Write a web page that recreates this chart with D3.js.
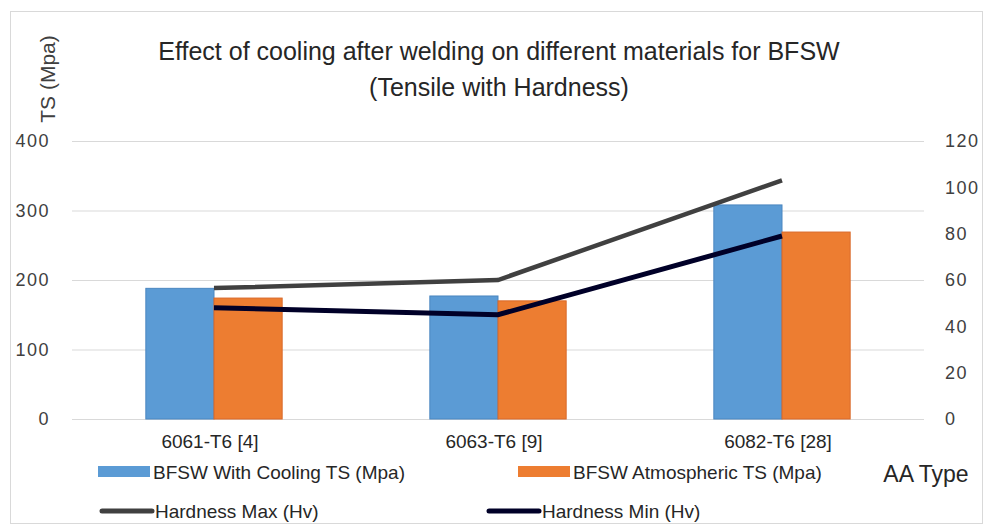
<!DOCTYPE html>
<html><head><meta charset="utf-8">
<script src="https://cdn.jsdelivr.net/npm/d3@7"></script>
<style>
html,body{margin:0;padding:0;background:#fff;}
svg{display:block;font-family:"Liberation Sans Narrow","Liberation Sans",Arial,sans-serif;}
</style></head><body>
<svg id="chart" width="986" height="527"></svg>
<script>
const categories = ["6061-T6 [4]", "6063-T6 [9]", "6082-T6 [28]"];
const tsCooling = [188, 177, 308];
const tsAtmospheric = [174, 170, 269];
const hardnessMax = [56.5, 60, 103];
const hardnessMin = [48, 45, 79];
const leftTicks = [0, 100, 200, 300, 400];
const rightTicks = [0, 20, 40, 60, 80, 100, 120];
const titleLines = ["Effect of cooling after welding on different materials for BFSW", "(Tensile with Hardness)"];
const seriesNames = ["BFSW With Cooling TS (Mpa)", "BFSW Atmospheric TS (Mpa)", "Hardness Max (Hv)", "Hardness Min (Hv)"];

const svg = d3.select("#chart");
const plot = {left: 72, right: 924, top: 141, bottom: 419};

// outer frame
svg.append("rect").attr("x", 10.5).attr("y", 11.5).attr("width", 972).attr("height", 512)
  .attr("fill", "#fff").attr("stroke", "#d9d9d9").attr("stroke-width", 1);

const x = d3.scaleBand().domain(categories).range([plot.left, plot.right]).paddingInner(0.52).paddingOuter(0.26);
const xs = d3.scaleBand().domain([0, 1]).range([0, x.bandwidth()]);
const yL = d3.scaleLinear().domain([0, 400]).range([plot.bottom, plot.top]);
const yR = d3.scaleLinear().domain([0, 120]).range([plot.bottom, plot.top]);

// gridlines
const gridAxis = d3.axisLeft(yL).tickValues(leftTicks).tickSize(-(plot.right - plot.left)).tickFormat("");
const gg = svg.append("g").attr("transform", `translate(${plot.left},0)`).call(gridAxis);
gg.select(".domain").remove();
gg.selectAll("line").attr("stroke", "#d9d9d9").attr("stroke-width", 1.2);

// left tick labels
const la = svg.append("g").attr("transform", `translate(${plot.left},0)`)
  .call(d3.axisLeft(yL).tickValues(leftTicks).tickSize(0).tickPadding(22));
la.select(".domain").remove();
la.selectAll("text").attr("font-size", 18).attr("fill", "#404040").attr("letter-spacing", 1.5)
  .style("font-family", "'Liberation Sans',Arial,sans-serif");

// right tick labels
const ra = svg.append("g").attr("transform", `translate(${plot.right},0)`)
  .call(d3.axisRight(yR).tickValues(rightTicks).tickSize(0).tickPadding(21));
ra.select(".domain").remove();
ra.selectAll("text").attr("font-size", 18).attr("fill", "#404040").attr("letter-spacing", 1.5)
  .style("font-family", "'Liberation Sans',Arial,sans-serif");

// bars
const colors = ["#5B9BD5", "#ED7D31"];
const barSeries = [tsCooling, tsAtmospheric];
barSeries.forEach((vals, si) => {
  svg.append("g").selectAll("rect").data(categories).join("rect")
    .attr("x", c => x(c) + xs(si))
    .attr("width", xs.bandwidth())
    .attr("y", (c, i) => yL(vals[i]))
    .attr("height", (c, i) => yL(0) - yL(vals[i]))
    .attr("fill", colors[si])
    .attr("stroke", si === 0 ? "#4a86c0" : "#d9692a").attr("stroke-width", 1);
});

// lines
const cx = c => x(c) + x.bandwidth() / 2;
const lineGen = vals => d3.line().x((c) => cx(c)).y((c, i) => yR(vals[i]))(categories);
svg.append("path").attr("d", lineGen(hardnessMax)).attr("fill", "none")
  .attr("stroke", "#404040").attr("stroke-width", 4.5);
svg.append("path").attr("d", lineGen(hardnessMin)).attr("fill", "none")
  .attr("stroke", "#000028").attr("stroke-width", 5);

// category labels
svg.append("g").selectAll("text").data(categories).join("text")
  .attr("x", c => cx(c) - 4).attr("y", 448).attr("text-anchor", "middle")
  .attr("font-size", 19).attr("fill", "#262626").text(c => c);

// title
svg.append("g").selectAll("text").data(titleLines).join("text")
  .attr("x", 499).attr("y", (d, i) => 60 + i * 36).attr("text-anchor", "middle")
  .attr("font-size", 25).attr("fill", "#262626").text(d => d);

// y title
svg.append("text").attr("transform", "translate(55,79) rotate(-90)").attr("text-anchor", "middle")
  .attr("font-size", 21).attr("fill", "#404040").style("font-family", "'Liberation Sans',Arial,sans-serif")
  .text("TS (Mpa)");

// x title
svg.append("text").attr("x", 926).attr("y", 482).attr("text-anchor", "middle")
  .attr("font-size", 23).attr("fill", "#262626").style("font-family", "'Liberation Sans',Arial,sans-serif")
  .text("AA Type");

// legend
const legend = [
  {name: seriesNames[0], type: "bar", color: colors[0], x: 98, y: 472},
  {name: seriesNames[1], type: "bar", color: colors[1], x: 518, y: 472},
  {name: seriesNames[2], type: "line", color: "#404040", x: 100, y: 511},
  {name: seriesNames[3], type: "line", color: "#000028", x: 487, y: 511}
];
const lg = svg.append("g").selectAll("g").data(legend).join("g")
  .attr("transform", d => `translate(${d.x},${d.y})`);
lg.filter(d => d.type === "bar").append("rect").attr("x", 0).attr("y", -6).attr("width", 52).attr("height", 11)
  .attr("fill", d => d.color);
lg.filter(d => d.type === "line").append("line").attr("x1", 2).attr("x2", 52).attr("y1", 0).attr("y2", 0)
  .attr("stroke", d => d.color).attr("stroke-width", 5).attr("stroke-linecap", "round");
lg.append("text").attr("x", 55).attr("y", 7).attr("font-size", 19).attr("fill", "#262626").text(d => d.name);
</script>
</body></html>
